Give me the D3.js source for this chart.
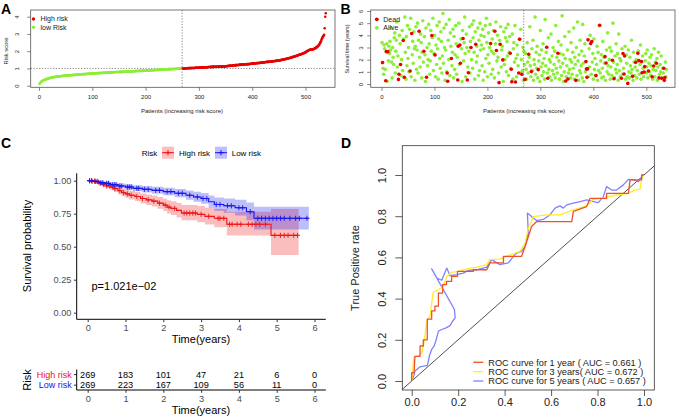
<!DOCTYPE html>
<html><head><meta charset="utf-8">
<script src="https://cdn.jsdelivr.net/npm/d3@7"></script>
<style>body{margin:0;background:#fff}svg{display:block;font-family:"Liberation Sans",Arial,Helvetica,sans-serif}</style>
</head><body><svg id="c" width="679" height="417"></svg>
<script>
// ---------- Panel A: sorted risk scores ----------
const riskScore = [
.10,.15,.19,.22,.25,.27,.29,.31,.32,.33,
.35,.36,.37,.38,.39,.40,.41,.42,.44,.45,
.45,.46,.47,.47,.48,.49,.49,.50,.50,.51,
.51,.52,.52,.53,.53,.53,.54,.54,.55,.55,
.55,.56,.56,.56,.57,.57,.57,.58,.58,.58,
.59,.59,.59,.60,.60,.60,.60,.61,.61,.61,
.61,.62,.62,.62,.62,.63,.63,.63,.63,.64,
.64,.64,.64,.65,.65,.65,.65,.66,.66,.66,
.66,.66,.67,.67,.67,.67,.68,.68,.68,.68,
.69,.69,.69,.69,.69,.70,.70,.70,.70,.71,
.71,.71,.71,.71,.72,.72,.72,.72,.72,.73,
.73,.73,.73,.73,.74,.74,.74,.74,.74,.75,
.75,.75,.75,.75,.75,.76,.76,.76,.76,.76,
.77,.77,.77,.77,.77,.77,.78,.78,.78,.78,
.78,.78,.79,.79,.79,.79,.79,.79,.79,.79,
.80,.80,.80,.80,.80,.80,.81,.81,.81,.81,
.81,.81,.82,.82,.82,.82,.82,.82,.83,.83,
.83,.83,.83,.83,.84,.84,.84,.84,.84,.84,
.85,.85,.85,.85,.85,.85,.85,.86,.86,.86,
.86,.86,.86,.86,.87,.87,.87,.87,.87,.87,
.88,.88,.88,.88,.88,.88,.89,.89,.89,.89,
.89,.90,.90,.90,.90,.90,.91,.91,.91,.91,
.91,.92,.92,.92,.92,.92,.93,.93,.93,.93,
.93,.94,.94,.94,.94,.94,.95,.95,.95,.95,
.95,.95,.96,.96,.96,.96,.96,.96,.97,.97,
.97,.97,.97,.97,.97,.98,.98,.98,.98,.98,
.98,.98,.99,.99,.99,.99,.99,.99,.99,
1.00,1.00,1.00,1.00,1.00,1.01,1.01,1.01,1.01,1.01,
1.01,1.02,1.02,1.02,1.02,1.02,1.02,1.03,1.03,1.03,
1.03,1.03,1.03,1.04,1.04,1.04,1.04,1.04,1.04,1.04,
1.04,1.05,1.05,1.05,1.05,1.05,1.05,1.06,1.06,1.06,
1.06,1.06,1.07,1.07,1.07,1.07,1.07,1.08,1.08,1.08,
1.08,1.08,1.08,1.09,1.09,1.09,1.09,1.09,1.09,1.10,
1.10,1.10,1.10,1.10,1.10,1.10,1.10,1.11,1.11,1.11,
1.11,1.11,1.11,1.11,1.11,1.12,1.12,1.12,1.12,1.12,
1.13,1.13,1.13,1.14,1.14,1.14,1.15,1.15,1.15,1.16,
1.16,1.16,1.17,1.17,1.17,1.18,1.18,1.18,1.19,1.19,
1.19,1.19,1.20,1.20,1.20,1.21,1.21,1.21,1.21,1.22,
1.22,1.22,1.22,1.23,1.23,1.23,1.23,1.24,1.24,1.24,
1.24,1.25,1.25,1.25,1.26,1.26,1.26,1.27,1.27,1.27,
1.28,1.28,1.28,1.29,1.29,1.29,1.30,1.30,1.30,1.31,
1.31,1.31,1.32,1.32,1.32,1.33,1.33,1.34,1.34,1.34,
1.35,1.35,1.35,1.36,1.36,1.37,1.37,1.37,1.38,1.38,
1.38,1.39,1.39,1.39,1.40,1.40,1.41,1.41,1.41,1.42,
1.42,1.42,1.43,1.43,1.44,1.44,1.44,1.45,1.45,1.46,
1.46,1.47,1.47,1.48,1.49,1.49,1.50,1.51,1.51,1.52,
1.53,1.53,1.54,1.55,1.56,1.56,1.57,1.58,1.59,1.60,
1.60,1.61,1.62,1.63,1.64,1.65,1.66,1.67,1.68,1.69,
1.70,1.71,1.72,1.73,1.74,1.75,1.76,1.78,1.79,1.80,
1.81,1.82,1.83,1.84,1.85,1.87,1.88,1.89,1.90,1.92,
1.94,1.96,1.98,2.00,2.02,2.03,2.05,2.07,2.08,2.08,
2.09,2.09,2.10,2.10,2.11,2.12,2.13,2.15,2.17,2.19,
2.21,2.23,2.25,2.28,2.31,2.35,2.40,2.46,2.52,2.58,
2.66,2.74,2.80,2.86,2.90,2.95,3.33,4.00,4.20];
const lowRiskCount = 269;
const riskCutoff = 1.0;
const axisTicksPatients = [0,100,200,300,400,500];
const axisTicksRisk = [0,1,2,3,4];
const legendA = ["High risk","low Risk"];

// ---------- Panel B: survival status ----------
const deadPoints = [[2,1.76],[8,0.27],[9,2.66],[12,2.66],[32,0.38],[33,0.8],[36,1.6],[41,3.57],[43,0.55],[54,1.07],[57,4.15],[71,4.34],[80,2.69],[85,0.55],[95,3.98],[101,2.39],[124,0.9],[125,0.22],[132,2.09],[144,0.33],[145,3.1],[148,3.2],[149,1.7],[154,3.74],[162,0.33],[164,0.93],[169,3.0],[178,3.27],[206,3.32],[214,4.34],[217,2.75],[222,0.11],[224,3.27],[229,1.98],[243,2.53],[245,1.21],[246,0.19],[253,0.16],[259,0.9],[261,3.68],[265,0.8],[271,0.38],[278,2.45],[283,1.02],[296,1.18],[312,3.02],[314,0.47],[333,2.53],[348,0.25],[352,0.41],[367,0.3],[386,1.84],[387,1.24],[388,0.55],[389,1.24],[390,3.63],[395,3.32],[397,3.49],[405,0.69],[412,4.83],[422,2.25],[424,1.73],[436,1.95],[439,0.44],[453,0.47],[456,2.5],[458,0.82],[459,2.3],[465,0.05],[474,0.63],[480,1.78],[484,2.53],[486,1.92],[491,1.84],[492,0.93],[496,0.99],[497,1.43],[504,1.07],[511,0.6],[514,1.48],[519,1.7],[524,0.5],[529,0.47],[533,1.29],[534,0.3],[535,0.52]];
const aliveTimes = [
3.4,1.3,0.8,3.2,2.9,1.2,3.3,0.2,1.9,3.1,2.5,3.5,2.8,4.6,1.8,0.5,3.0,2.2,1.6,3.8,
4.2,0.9,2.7,3.6,5.1,1.4,2.3,4.0,3.3,0.7,2.0,4.4,1.1,3.7,5.5,2.6,0.4,3.9,1.5,4.8,
2.1,3.0,1.0,4.5,5.4,0.6,2.4,3.5,1.7,4.3,2.9,0.3,3.1,4.7,1.2,2.8,5.0,0.9,3.6,2.2,
1.4,4.1,3.4,0.5,2.6,5.2,1.8,3.9,2.4,0.2,4.6,3.0,1.5,2.0,4.9,3.3,0.8,1.9,4.4,2.7,
3.8,5.4,1.1,2.5,4.0,0.6,3.2,1.6,4.8,2.9,0.4,3.7,5.1,2.1,1.3,4.3,3.5,0.9,2.3,5.8,
1.7,4.6,3.0,0.3,2.8,4.9,1.0,3.6,2.0,5.3,0.7,4.2,3.1,1.5,2.6,4.5,0.5,3.9,1.2,2.4,
4.8,3.3,0.8,2.2,5.0,1.6,3.7,2.9,0.2,4.4,1.9,3.4,5.5,2.5,0.6,4.1,3.0,1.4,2.7,4.7,
0.9,3.5,2.0,4.9,1.3,3.8,5.2,2.6,0.4,4.3,1.8,3.1,2.3,4.6,0.7,3.6,1.1,5.0,2.8,4.0,
3.2,1.5,4.5,0.3,2.9,3.9,1.0,4.8,2.1,5.4,3.4,0.6,2.4,4.2,1.7,3.0,4.9,0.8,2.7,3.7,
1.2,4.4,2.5,0.5,3.3,5.1,1.9,4.0,2.2,0.9,3.6,4.7,1.4,2.8,3.1,0.2,4.3,1.6,2.0,3.8,
4.6,1.0,3.5,2.3,4.9,0.7,2.6,3.9,1.3,4.1,0.4,2.9,3.4,1.8,4.8,2.1,0.6,3.2,2.4,1.5,
3.7,0.9,4.5,2.0,1.1,3.0,0.3,2.7,1.6,
2.5,1.2,0.4,3.4,1.8,0.9,2.2,4.7,1.5,0.6,2.9,1.1,3.6,0.3,2.0,1.6,5.5,0.8,2.6,1.3,
3.1,0.5,1.9,2.4,0.2,4.4,1.4,2.8,0.7,1.7,3.3,1.0,2.1,0.4,5.3,1.5,2.6,0.9,3.8,1.2,
2.0,0.6,1.8,4.1,0.3,2.3,1.1,3.0,0.8,1.6,2.7,0.5,4.8,1.3,2.2,0.9,3.5,1.9,0.4,2.5,
1.4,3.2,0.7,5.6,1.7,2.4,0.2,1.0,3.9,2.1,0.6,1.5,2.8,0.9,4.3,1.2,2.0,0.5,3.4,1.8,
0.8,2.6,1.3,4.6,0.4,2.2,1.6,3.0,0.7,5.1,1.9,0.3,2.4,1.1,3.6,0.9,1.5,2.7,0.5,4.9,
1.7,0.2,2.3,3.3,1.0,0.6,2.9,1.4,4.0,0.8,1.8,2.5,0.4,3.7,1.2,2.1,0.7,1.6,3.1,0.3,
2.6,1.1,4.8,0.9,1.9,2.4,0.5,1.3,3.5,0.6,2.2,1.7,0.3,2.8,1.0,4.2,1.5,0.8,2.0,3.0,
0.4,1.4,2.7,0.7,5.0,1.8,0.5,2.3,1.2,3.3,0.9,1.6,2.5,0.3,4.1,1.1,2.1,0.6,1.9,2.9,
0.8,1.3,3.1,0.4,2.4,1.7,0.6,2.8,1.0,0.5,2.2,1.5,0.9,3.6,1.2,0.3,2.6,1.8,0.7,1.4,
2.0,0.5,1.1,2.7,0.8,1.6,3.2,0.4,2.3,1.3,0.6,1.9,2.5,0.9,1.4,2.8,0.5,1.7,1.0,2.2,
0.7,1.5,2.4,0.4,1.2,2.9,0.6,1.8,1.1,2.1,0.3,1.4,2.6,0.8,1.6,1.0,2.3,0.5,1.3,0.9,
1.8,0.6,1.2,1.5];
const axisTicksTime = [0,1,2,3,4,5,6];
const legendB = ["Dead","Alive"];

// ---------- Panel C: Kaplan-Meier ----------
const highTime  = [0,0.1,0.2,0.3,0.4,0.5,0.6,0.7,0.8,0.9,1.0,1.1,1.25,1.4,1.55,1.7,1.85,2.0,2.1,2.2,2.35,2.48,2.9,3.1,3.35,3.68,4.85];
const highSurv  = [1,0.996,0.99,0.98,0.97,0.96,0.95,0.94,0.925,0.91,0.9,0.89,0.88,0.865,0.855,0.845,0.83,0.815,0.80,0.79,0.775,0.755,0.745,0.73,0.715,0.67,0.586];
const highLower = [1,0.988,0.978,0.965,0.952,0.94,0.928,0.915,0.898,0.882,0.87,0.858,0.846,0.828,0.816,0.804,0.787,0.77,0.752,0.74,0.722,0.70,0.686,0.668,0.648,0.585,0.437];
const highUpper = [1,1,1,0.995,0.99,0.982,0.974,0.966,0.954,0.94,0.932,0.923,0.915,0.903,0.895,0.888,0.876,0.863,0.852,0.845,0.832,0.815,0.808,0.795,0.785,0.765,0.785];
const highEnd = 5.58;
const lowTime  = [0,0.15,0.3,0.45,0.6,0.8,1.0,1.2,1.45,1.7,2.0,2.3,2.6,2.8,3.0,3.2,3.35,3.6,3.9,4.2,4.4];
const lowSurv  = [1,0.995,0.985,0.98,0.97,0.96,0.952,0.942,0.935,0.927,0.917,0.905,0.89,0.877,0.865,0.84,0.82,0.81,0.795,0.765,0.715];
const lowLower = [1,0.988,0.974,0.966,0.954,0.942,0.932,0.92,0.911,0.901,0.889,0.874,0.855,0.84,0.825,0.795,0.772,0.758,0.737,0.70,0.63];
const lowUpper = [1,1,0.996,0.994,0.987,0.979,0.973,0.965,0.96,0.954,0.946,0.937,0.926,0.916,0.907,0.888,0.872,0.866,0.856,0.835,0.803];
const lowEnd = 5.85;
const highCensor = [0.05,0.12,0.18,0.28,0.33,0.42,0.5,0.58,0.67,0.72,0.85,0.95,1.05,1.15,1.3,1.45,1.6,1.75,1.9,2.05,2.15,2.3,2.55,2.62,2.7,2.78,2.85,3.0,3.2,3.45,3.5,3.6,3.75,3.82,3.95,4.05,4.25,4.35,4.45,4.55,4.7,4.95,5.1,5.2,5.3,5.45,5.55];
const lowCensor = [0.05,0.1,0.2,0.25,0.35,0.4,0.5,0.55,0.65,0.7,0.75,0.85,0.9,1.05,1.1,1.15,1.3,1.35,1.5,1.6,1.8,1.9,2.1,2.2,2.4,2.5,2.7,2.9,3.05,3.15,3.4,3.5,3.7,3.8,4.0,4.1,4.3,4.5,4.6,4.7,4.8,4.9,5.0,5.1,5.2,5.35,5.5,5.6,5.8];
const survTicks = [0,0.25,0.5,0.75,1];
const survTickLabels = ["0.00","0.25","0.50","0.75","1.00"];
const riskGroups = ["High risk","Low risk"];
const atRiskHigh = [269,183,101,47,21,6,0];
const atRiskLow  = [269,223,167,109,56,11,0];
const pValueText = "p=1.021e\u221202";

// ---------- Panel D: ROC ----------
const roc1 = [[0,0],[0,0.04],[0.01,0.04],[0.014,0.12],[0.036,0.12],[0.036,0.17],[0.05,0.17],[0.05,0.2],[0.067,0.2],[0.067,0.3],[0.086,0.3],[0.086,0.34],[0.1,0.34],[0.1,0.363],[0.115,0.363],[0.115,0.427],[0.133,0.427],[0.133,0.468],[0.15,0.468],[0.15,0.484],[0.172,0.484],[0.172,0.508],[0.197,0.508],[0.197,0.532],[0.265,0.532],[0.265,0.54],[0.323,0.54],[0.337,0.573],[0.395,0.573],[0.395,0.605],[0.473,0.605],[0.488,0.653],[0.502,0.70],[0.516,0.75],[0.538,0.774],[0.689,0.774],[0.696,0.823],[0.753,0.847],[0.768,0.887],[0.839,0.887],[0.839,0.911],[0.933,0.911],[0.94,0.976],[0.99,0.976],[0.99,1],[1,1]];
const roc3 = [[0,0],[0.003,0.024],[0.007,0.089],[0.01,0.118],[0.029,0.121],[0.043,0.137],[0.053,0.185],[0.062,0.266],[0.067,0.298],[0.079,0.315],[0.088,0.395],[0.093,0.431],[0.115,0.444],[0.136,0.46],[0.151,0.508],[0.172,0.527],[0.201,0.532],[0.237,0.544],[0.28,0.553],[0.323,0.565],[0.337,0.589],[0.38,0.592],[0.409,0.605],[0.445,0.621],[0.466,0.629],[0.488,0.669],[0.502,0.742],[0.524,0.798],[0.581,0.806],[0.638,0.806],[0.696,0.831],[0.753,0.85],[0.782,0.882],[0.839,0.892],[0.882,0.903],[0.933,0.911],[0.954,0.924],[0.983,0.931],[0.99,0.984],[0.997,1]];
const roc5 = [[0,0],[0.01,0.027],[0.014,0.048],[0.036,0.069],[0.067,0.076],[0.072,0.097],[0.076,0.121],[0.086,0.153],[0.096,0.169],[0.105,0.198],[0.115,0.242],[0.129,0.25],[0.148,0.258],[0.165,0.269],[0.176,0.29],[0.187,0.306],[0.184,0.347],[0.086,0.544],[0.108,0.5],[0.129,0.489],[0.151,0.548],[0.165,0.511],[0.194,0.516],[0.222,0.524],[0.244,0.537],[0.28,0.54],[0.323,0.553],[0.344,0.589],[0.38,0.565],[0.416,0.573],[0.438,0.605],[0.452,0.621],[0.473,0.629],[0.488,0.653],[0.502,0.718],[0.498,0.815],[0.516,0.798],[0.538,0.779],[0.567,0.785],[0.595,0.806],[0.617,0.839],[0.638,0.85],[0.653,0.839],[0.667,0.855],[0.696,0.863],[0.725,0.871],[0.753,0.879],[0.782,0.871],[0.803,0.866],[0.825,0.895],[0.839,0.944],[0.861,0.927],[0.882,0.927],[0.911,0.952],[0.933,0.979],[0.954,0.976],[0.976,0.968],[0.997,1]];
const rocTicks = [0,0.2,0.4,0.6,0.8,1.0];
const rocLegend = ["ROC curve for 1 year ( AUC =  0.661 )","ROC curve for 3 years( AUC =  0.672 )","ROC curve for 5 years ( AUC =  0.657 )"];

// ================= drawing =================
const svg = d3.select("#c");
const RED = "#E60000", GREEN = "#8CEE38";
const boxCol = "#555";

function rotLabels(sel, dx){
  sel.selectAll(".tick text").attr("x",0).attr("y",0).attr("dy","0.35em")
    .attr("text-anchor","middle").attr("transform",`translate(${dx},0) rotate(-90)`);
}

// ----- Panel A -----
const xA = d3.scaleLinear().domain([0,500]).range([39,305.5]);
const yA = d3.scaleLinear().domain([0,4]).range([85.7,16.7]);
const gA = svg.append("g");
gA.append("rect").attr("x",30.7).attr("y",10).attr("width",304.3).attr("height",77.3)
  .attr("fill","none").attr("stroke",boxCol).attr("stroke-width",0.8);
gA.append("line").attr("x1",30.7).attr("x2",335).attr("y1",yA(riskCutoff)).attr("y2",yA(riskCutoff))
  .attr("stroke","#666").attr("stroke-width",0.8).attr("stroke-dasharray","1.2,1.6");
gA.append("line").attr("x1",xA(lowRiskCount-0.5)).attr("x2",xA(lowRiskCount-0.5)).attr("y1",10).attr("y2",87.3)
  .attr("stroke","#666").attr("stroke-width",0.8).attr("stroke-dasharray","1.2,1.6");
gA.selectAll("circle.r").data(riskScore).join("circle")
  .attr("cx",(d,i)=>xA(i+1)).attr("cy",d=>yA(d)).attr("r",1.3)
  .attr("fill",(d,i)=> i < lowRiskCount ? GREEN : RED);
const axA = gA.append("g").attr("transform","translate(0,87.3)")
  .call(d3.axisBottom(xA).tickValues(axisTicksPatients).tickFormat(d3.format("d")).tickSize(3.5).tickPadding(4));
const ayA = gA.append("g").attr("transform","translate(30.7,0)")
  .call(d3.axisLeft(yA).tickValues(axisTicksRisk).tickFormat(d3.format("d")).tickSize(3.5));
rotLabels(ayA,-13.5);
[axA,ayA].forEach(a=>{a.select(".domain").remove(); a.selectAll("line").attr("stroke",boxCol).attr("stroke-width",0.7);
  a.selectAll("text").attr("font-size",6).attr("fill","#222").attr("font-family",null);});
gA.append("text").attr("x",182).attr("y",112.5).attr("text-anchor","middle").attr("font-size",6).attr("fill","#222").text("Patients (increasing risk score)");
gA.append("text").attr("transform","translate(6,51) rotate(-90)").attr("text-anchor","middle").attr("dy","0.35em").attr("font-size",5.8).attr("fill","#222").text("Risk score");
legendA.forEach((t,i)=>{
  gA.append("circle").attr("cx",33.5).attr("cy",19+i*8.3).attr("r",1.7).attr("fill",i===0?RED:GREEN);
  gA.append("text").attr("x",40.5).attr("y",19+i*8.3).attr("dy","0.35em").attr("font-size",7).attr("fill","#222").text(t);
});
svg.append("text").attr("x",1).attr("y",13.5).attr("font-size",14).attr("font-weight","bold").text("A");

// ----- Panel B -----
const xB = d3.scaleLinear().domain([0,500]).range([381.5,646.3]);
const yB = d3.scaleLinear().domain([0,6]).range([84,11]);
const gB = svg.append("g");
gB.append("rect").attr("x",370.7).attr("y",10).attr("width",304.3).attr("height",77.3)
  .attr("fill","none").attr("stroke",boxCol).attr("stroke-width",0.8);
// alive patients occupy the indices not taken by dead patients
const deadSet = new Set(deadPoints.map(d=>d[0]));
const alivePoints = [];
let k = 0;
for (let i=1;i<=riskScore.length && k<aliveTimes.length;i++){ if(!deadSet.has(i)){ alivePoints.push([i,aliveTimes[k++]]); } }
gB.selectAll("circle.a").data(alivePoints).join("circle").attr("class","a")
  .attr("cx",d=>xB(d[0])).attr("cy",d=>yB(d[1])).attr("r",1.8).attr("fill",GREEN);
gB.selectAll("circle.d").data(deadPoints).join("circle").attr("class","d")
  .attr("cx",d=>xB(d[0])).attr("cy",d=>yB(d[1])).attr("r",1.8).attr("fill",RED);
gB.append("line").attr("x1",xB(lowRiskCount-0.5)).attr("x2",xB(lowRiskCount-0.5)).attr("y1",10).attr("y2",87.3)
  .attr("stroke","#666").attr("stroke-width",0.8).attr("stroke-dasharray","1.2,1.6");
const axB = gB.append("g").attr("transform","translate(0,87.3)")
  .call(d3.axisBottom(xB).tickValues(axisTicksPatients).tickFormat(d3.format("d")).tickSize(3.5).tickPadding(4));
const ayB = gB.append("g").attr("transform","translate(370.7,0)")
  .call(d3.axisLeft(yB).tickValues(axisTicksTime).tickFormat(d3.format("d")).tickSize(3.5));
rotLabels(ayB,-10);
[axB,ayB].forEach(a=>{a.select(".domain").remove(); a.selectAll("line").attr("stroke",boxCol).attr("stroke-width",0.7);
  a.selectAll("text").attr("font-size",6).attr("fill","#222").attr("font-family",null);});
gB.append("text").attr("x",524).attr("y",112.5).attr("text-anchor","middle").attr("font-size",6).attr("fill","#222").text("Patients (increasing risk score)");
gB.append("text").attr("transform","translate(347.5,49) rotate(-90)").attr("text-anchor","middle").attr("dy","0.35em").attr("font-size",5.4).attr("fill","#222").text("Survival time (years)");
legendB.forEach((t,i)=>{
  gB.append("circle").attr("cx",376.8).attr("cy",19.3+i*8.5).attr("r",1.9).attr("fill",i===0?RED:GREEN);
  gB.append("text").attr("x",383.3).attr("y",19.3+i*8.5).attr("dy","0.35em").attr("font-size",7).attr("fill","#222").text(t);
});
svg.append("text").attr("x",340.5).attr("y",13.5).attr("font-size",14).attr("font-weight","bold").text("B");

// ----- Panel C -----
const CR = "#EE1515", CB = "#1515EE";
const xC = d3.scaleLinear().domain([0,6]).range([87.7,314.5]);
const yC = d3.scaleLinear().domain([0,1]).range([312.7,180.7]);
const gC = svg.append("g");
svg.append("text").attr("x",1).attr("y",148).attr("font-size",14).attr("font-weight","bold").text("C");
function kmData(time,surv,lo,hi,end){
  const d = time.map((t,i)=>({t, s:surv[i], lo:lo[i], hi:hi[i]}));
  const l = d[d.length-1]; d.push({t:end, s:l.s, lo:l.lo, hi:l.hi}); return d;
}
const groups = [
  {d:kmData(highTime,highSurv,highLower,highUpper,highEnd), col:CR, cens:highCensor, time:highTime, surv:highSurv},
  {d:kmData(lowTime,lowSurv,lowLower,lowUpper,lowEnd), col:CB, cens:lowCensor, time:lowTime, surv:lowSurv}
];
const area = d3.area().curve(d3.curveStepAfter).x(d=>xC(d.t)).y0(d=>yC(d.lo)).y1(d=>yC(d.hi));
const line = d3.line().curve(d3.curveStepAfter).x(d=>xC(d.t)).y(d=>yC(d.s));
groups.forEach(g=>gC.append("path").attr("d",area(g.d)).attr("fill",g.col).attr("fill-opacity",0.28));
function plus(x,y,s){return `M${x-s},${y}H${x+s}M${x},${y-s}V${y+s}`;}
groups.forEach(g=>{
  gC.append("path").attr("d",line(g.d)).attr("fill","none").attr("stroke",g.col).attr("stroke-width",1.1);
  const p = g.cens.map(t=>{const i=Math.max(0,d3.bisectRight(g.time,t)-1); return plus(xC(t),yC(g.surv[i]),2.6);}).join("");
  gC.append("path").attr("d",p).attr("stroke",g.col).attr("stroke-width",0.9).attr("fill","none");
});
// axes
gC.append("line").attr("x1",76.7).attr("x2",76.7).attr("y1",173.3).attr("y2",319.3).attr("stroke","#000").attr("stroke-width",1);
gC.append("line").attr("x1",76.7).attr("x2",325.8).attr("y1",319.3).attr("y2",319.3).attr("stroke","#000").attr("stroke-width",1);
const ayC = gC.append("g").attr("transform","translate(76.7,0)")
  .call(d3.axisLeft(yC).tickValues(survTicks).tickFormat((d,i)=>survTickLabels[i]).tickSize(2.8).tickPadding(2.5));
const axC = gC.append("g").attr("transform","translate(0,319.3)")
  .call(d3.axisBottom(xC).tickValues(axisTicksTime).tickFormat(d3.format("d")).tickSize(2.8).tickPadding(2.5));
[ayC,axC].forEach(a=>{a.select(".domain").remove(); a.selectAll("line").attr("stroke","#333");
  a.selectAll("text").attr("font-size",9.2).attr("fill","#4D4D4D").attr("font-family",null);});
gC.append("text").attr("x",201).attr("y",339).attr("dy","0.35em").attr("text-anchor","middle").attr("font-size",11).text("Time(years)");
gC.append("text").attr("transform","translate(27.5,246) rotate(-90)").attr("dy","0.35em").attr("text-anchor","middle").attr("font-size",11).text("Survival probability");
gC.append("text").attr("x",91.5).attr("y",285.7).attr("dy","0.35em").attr("font-size",11).text(pValueText);
// legend
gC.append("text").attr("x",141.7).attr("y",152.7).attr("dy","0.35em").attr("font-size",8).text("Risk");
[[162,CR,riskGroups[0],179],[215,CB,riskGroups[1],231.7]].forEach(([x,c,t,tx])=>{
  gC.append("rect").attr("x",x).attr("y",146.7).attr("width",12).attr("height",12).attr("fill",c).attr("fill-opacity",0.28);
  gC.append("path").attr("d",`M${x},152.7H${x+12}`+plus(x+6,152.7,2.6)).attr("stroke",c).attr("stroke-width",1);
  gC.append("text").attr("x",tx).attr("y",152.7).attr("dy","0.35em").attr("font-size",8).text(t);
});
// risk table
const tableRows = [[atRiskHigh,374.6,CR,riskGroups[0]],[atRiskLow,385.2,CB,riskGroups[1]]];
tableRows.forEach(([vals,y,c,lab])=>{
  vals.forEach((v,i)=>gC.append("text").attr("x",xC(axisTicksTime[i])).attr("y",y).attr("dy","0.35em").attr("text-anchor","middle").attr("font-size",9.2).text(v));
  gC.append("text").attr("x",71.7).attr("y",y).attr("dy","0.35em").attr("text-anchor","end").attr("font-size",9).attr("fill",c).text(lab);
  gC.append("line").attr("x1",73.9).attr("x2",76.7).attr("y1",y).attr("y2",y).attr("stroke","#333");
});
gC.append("line").attr("x1",76.7).attr("x2",76.7).attr("y1",369.5).attr("y2",390).attr("stroke","#000").attr("stroke-width",1);
gC.append("line").attr("x1",76.7).attr("x2",325.8).attr("y1",390).attr("y2",390).attr("stroke","#000").attr("stroke-width",1);
const axT = gC.append("g").attr("transform","translate(0,390)")
  .call(d3.axisBottom(xC).tickValues(axisTicksTime).tickFormat(d3.format("d")).tickSize(2.8).tickPadding(2.5));
axT.select(".domain").remove(); axT.selectAll("line").attr("stroke","#333");
axT.selectAll("text").attr("font-size",9.2).attr("fill","#4D4D4D").attr("font-family",null);
gC.append("text").attr("x",201).attr("y",410).attr("dy","0.35em").attr("text-anchor","middle").attr("font-size",11).text("Time(years)");
gC.append("text").attr("transform","translate(27,380) rotate(-90)").attr("dy","0.35em").attr("text-anchor","middle").attr("font-size",11).text("Risk");

// ----- Panel D -----
const xD = d3.scaleLinear().domain([0,1]).range([411.7,644]);
const yD = d3.scaleLinear().domain([0,1]).range([381,175]);
const gD = svg.append("g");
svg.append("text").attr("x",341).attr("y",148).attr("font-size",14).attr("font-weight","bold").text("D");
gD.append("clipPath").attr("id","clipD").append("rect").attr("x",402.3).attr("y",145.7).attr("width",252).attr("height",244.3);
gD.append("line").attr("clip-path","url(#clipD)").attr("x1",xD(-0.1)).attr("y1",yD(-0.1)).attr("x2",xD(1.2)).attr("y2",yD(1.2))
  .attr("stroke","#222").attr("stroke-width",0.8);
const rl = d3.line().x(d=>xD(d[0])).y(d=>yD(d[1]));
[[roc5,"#8080FF"],[roc3,"#FFEE22"],[roc1,"#F0502A"]].forEach(([d,c])=>
  gD.append("path").attr("d",rl(d)).attr("fill","none").attr("stroke",c).attr("stroke-width",1.3).attr("stroke-linejoin","round"));
gD.append("rect").attr("x",402.3).attr("y",145.7).attr("width",252).attr("height",244.3)
  .attr("fill","none").attr("stroke","#333").attr("stroke-width",0.8);
const axD = gD.append("g").attr("transform","translate(0,390)")
  .call(d3.axisBottom(xD).tickValues(rocTicks).tickFormat(d3.format(".1f")).tickSize(6).tickPadding(2.5));
const ayD = gD.append("g").attr("transform","translate(402.3,0)")
  .call(d3.axisLeft(yD).tickValues(rocTicks).tickFormat(d3.format(".1f")).tickSize(7));
rotLabels(ayD,-20);
[axD,ayD].forEach(a=>{a.select(".domain").remove(); a.selectAll("line").attr("stroke","#333").attr("stroke-width",0.8);
  a.selectAll("text").attr("font-size",11).attr("fill","#222").attr("font-family",null);});
gD.append("text").attr("transform","translate(355,268) rotate(-90)").attr("dy","0.35em").attr("text-anchor","middle").attr("font-size",11).attr("fill","#222").text("True Positive rate");
const legCols = ["#F0502A","#FFEE22","#8080FF"];
rocLegend.forEach((t,i)=>{
  const y = 362.3 + i*9.35;
  gD.append("line").attr("x1",473.3).attr("x2",483.3).attr("y1",y).attr("y2",y).attr("stroke",legCols[i]).attr("stroke-width",1.3);
  gD.append("text").attr("x",488.3).attr("y",y).attr("dy","0.35em").attr("font-size",9.2).attr("fill","#222").text(t);
});
</script></body></html>
